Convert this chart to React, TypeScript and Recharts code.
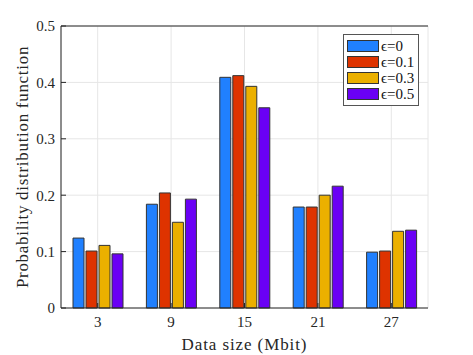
import React from "react";
import {
  BarChart,
  Bar,
  XAxis,
  YAxis,
  CartesianGrid,
  Legend,
  ReferenceLine,
} from "recharts";

// data sizes on the x axis (Mbit)
const sizes = ["3", "9", "15", "21", "27"];

// probability for each epsilon
const eps0 = [0.124, 0.184, 0.409, 0.179, 0.099];
const eps01 = [0.101, 0.204, 0.412, 0.179, 0.101];
const eps03 = [0.111, 0.152, 0.393, 0.2, 0.136];
const eps05 = [0.096, 0.193, 0.355, 0.216, 0.138];

const yTicks = [0, 0.1, 0.2, 0.3, 0.4, 0.5];

const series = [
  { key: "e0", name: "\u03f5=0", color: "#2080ff" },
  { key: "e01", name: "\u03f5=0.1", color: "#de3300" },
  { key: "e03", name: "\u03f5=0.3", color: "#ebb000" },
  { key: "e05", name: "\u03f5=0.5", color: "#6a00f5" },
];

const data = sizes.map((s, i) => ({
  size: s,
  e0: eps0[i],
  e01: eps01[i],
  e03: eps03[i],
  e05: eps05[i],
}));

const FONT = "Liberation Serif";
const INK = "#262626";

function LegendBox(props: any) {
  const { payload } = props;
  return (
    <div
      style={{
        border: "1px solid #555",
        background: "#fff",
        padding: "3px 4px 3px 3px",
        fontFamily: FONT,
        fontSize: 15,
        color: "#111",
        lineHeight: "16px",
      }}
    >
      {payload.map((p: any) => (
        <div key={p.value} style={{ display: "flex", alignItems: "center", height: 16 }}>
          <span
            style={{
              display: "inline-block",
              width: 32,
              height: 12,
              background: p.color,
              border: "1px solid #333",
              boxSizing: "border-box",
              marginRight: 2,
            }}
          />
          <span>{p.value}</span>
        </div>
      ))}
    </div>
  );
}

export default function App() {
  return (
    <div style={{ position: "absolute", left: 0, top: 0, background: "#fff", fontFamily: FONT }}>
      <BarChart
        width={473}
        height={355}
        data={data}
        margin={{ top: 26, right: 45, bottom: 0, left: 0 }}
        barSize={11}
        barGap={2}
        style={{ fontFamily: FONT }}
      >
        <CartesianGrid stroke="#e6e6e6" />
        <XAxis
          dataKey="size"
          height={47}
          stroke={INK}
          tickSize={-5}
          tickMargin={13}
          tick={{ fill: INK, fontSize: 15, fontFamily: FONT }}
          label={{
            value: "Data size (Mbit)",
            position: "insideBottom",
            offset: 5,
            fill: INK,
            fontSize: 17,
            fontFamily: FONT,
            letterSpacing: 0.9,
          }}
        />
        <XAxis
          xAxisId="top"
          dataKey="size"
          orientation="top"
          height={0}
          stroke={INK}
          tickSize={-5}
          tick={false}
        />
        <YAxis
          width={61}
          domain={[0, 0.5]}
          ticks={yTicks}
          stroke={INK}
          tickSize={-5}
          tickMargin={11}
          tickFormatter={(v) => (v === 0 ? "0" : v.toFixed(1))}
          tick={{ fill: INK, fontSize: 15, fontFamily: FONT }}
          label={{
            value: "Probability distribution function",
            angle: -90,
            position: "center",
            dx: -9,
            fill: INK,
            fontSize: 17,
            fontFamily: FONT,
            letterSpacing: 0.7,
          }}
        />
        <YAxis
          yAxisId="right"
          orientation="right"
          width={0}
          domain={[0, 0.5]}
          ticks={yTicks}
          stroke={INK}
          tickSize={-5}
          tick={false}
        />
        <ReferenceLine y={0.5} stroke={INK} />
        <Legend
          layout="vertical"
          align="center"
          verticalAlign="middle"
          wrapperStyle={{ top: 34, left: 343, width: "auto" }}
          content={<LegendBox />}
        />
        {series.map((s) => (
          <Bar
            key={s.key}
            dataKey={s.key}
            name={s.name}
            fill={s.color}
            stroke="#333"
            strokeWidth={1}
            isAnimationActive={false}
          />
        ))}
      </BarChart>
    </div>
  );
}
